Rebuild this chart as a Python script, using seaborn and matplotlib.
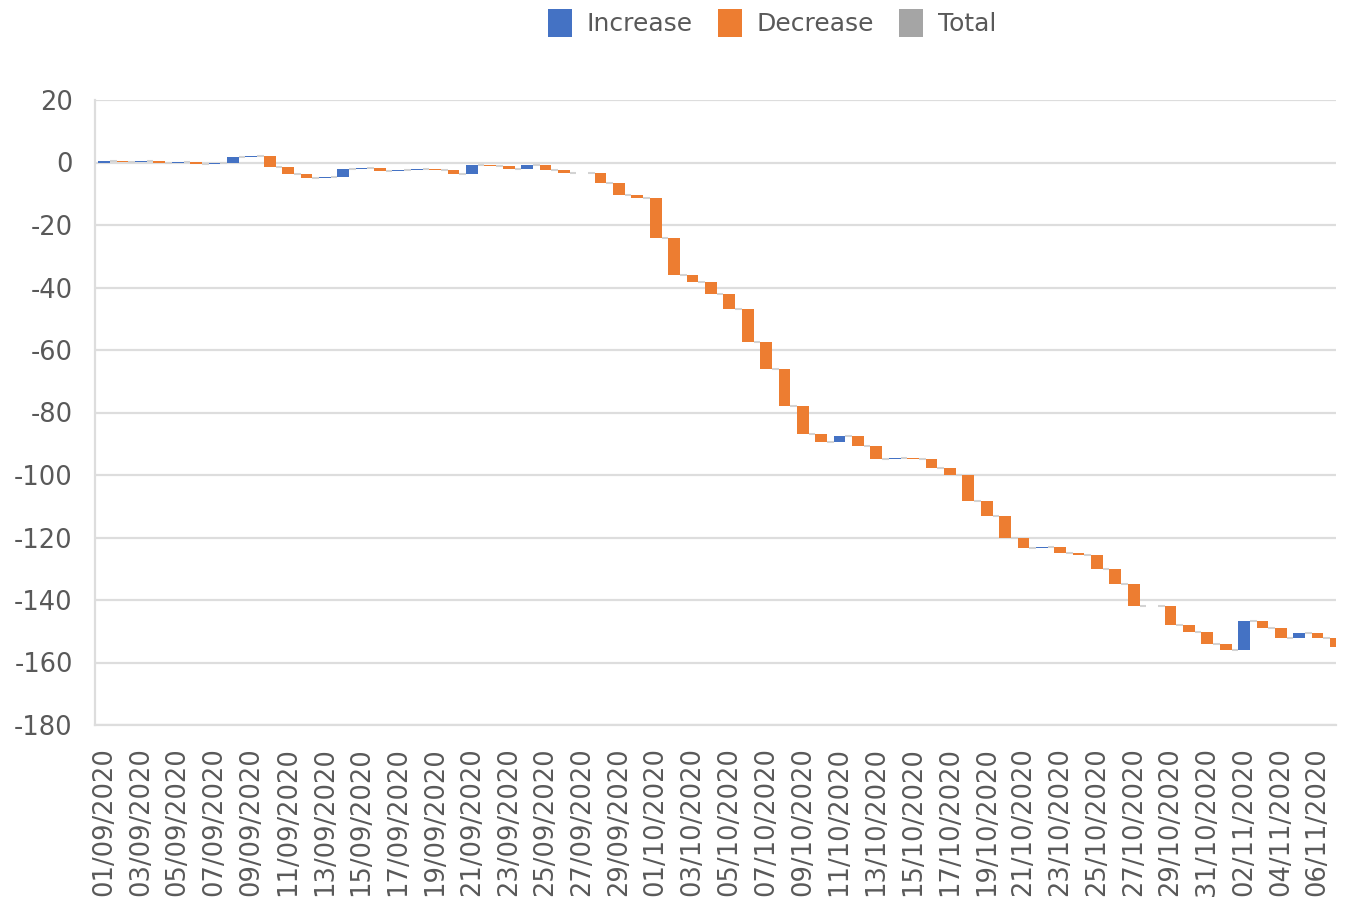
import numpy as np
import pandas as pd
import seaborn as sns
import matplotlib.pyplot as plt
from matplotlib.patches import Patch

# daily categories, 01/09/2020 .. 07/11/2020
dates = list(pd.date_range('2020-09-01', '2020-11-07').strftime('%d/%m/%Y'))

# daily change
changes = [0.5, -0.3, 0.3, -0.6, 0.2, -0.7, 0.3, 2.2, 0.3, -3.7,
           -2.2, -1.2, 0.3, 2.6, 0.3, -0.9, 0.2, 0.2, -0.2, -1.2,
           2.8, -0.3, -0.9, 1.2, -1.6, -1.1, 0.2, -3.3, -3.8, -1.1,
           -12.5, -12.0, -2.1, -3.9, -4.9, -10.4, -8.7, -12.0, -9.0, -2.5,
           1.9, -3.1, -4.3, 0.3, -0.3, -2.8, -2.2, -8.3, -4.9, -7.1,
           -2.9, 0.3, -2.1, -0.6, -4.5, -4.9, -7.0, 0.2, -6.2, -2.2,
           -3.9, -2.0, 9.3, -2.1, -3.3, 1.7, -1.6, -2.9]

legend_labels = ['Increase', 'Decrease', 'Total']
colors = ['#4472C4', '#ED7D31', '#A5A5A5']
yticks = list(range(-180, 21, 20))

# build waterfall table
df = pd.DataFrame({'date': dates, 'change': changes})
df['end'] = df['change'].cumsum()
df['start'] = df['end'] - df['change']
df['kind'] = np.where(df['change'] >= 0, 'Increase', 'Decrease')

sns.set_theme(style='whitegrid')
plt.rcParams['font.family'] = ['DejaVu Sans']
plt.rcParams['axes.unicode_minus'] = False

fig = plt.figure(figsize=(13.45, 9.06), dpi=100)
ax = fig.add_axes([95 / 1345, 1 - 725 / 906, 1241 / 1345, 625 / 906])

bar_w = 0.64
for kind, col in zip(legend_labels[:2], colors[:2]):
    sub = df[df['kind'] == kind]
    sns.barplot(data=sub, x='date', y='change', order=dates,
                bottom=sub['start'].to_numpy(), color=col, saturation=1,
                width=bar_w, errorbar=None, linewidth=0, ax=ax)

# connector lines between bars
ax.hlines(df['end'][:-1], np.arange(len(dates) - 1) + bar_w / 2,
          np.arange(1, len(dates)) - bar_w / 2,
          color='#D3D3D3', lw=1.5, zorder=1)

ax.set_xlim(-0.5, len(dates) - 1)
ax.set_ylim(-180, 20)
ax.set_yticks(yticks)
ax.set_xticks(range(0, len(dates), 2))
ax.set_xticklabels(dates[::2], rotation=90)
ax.set_xlabel('')
ax.set_ylabel('')

ax.set_axisbelow(True)
ax.grid(axis='y', color='#DDDDDD', lw=1.6)
ax.grid(axis='x', visible=False)
for side in ['top', 'right']:
    ax.spines[side].set_visible(False)
for side in ['left', 'bottom']:
    ax.spines[side].set_color('#DDDDDD')
    ax.spines[side].set_linewidth(1.6)
ax.tick_params(axis='both', length=0, labelsize=18.5, labelcolor='#595959', pad=16)

handles = [Patch(facecolor=c, edgecolor='none', label=l) for l, c in zip(legend_labels, colors)]
fig.legend(handles=handles, loc='center', bbox_to_anchor=(772 / 1345, 1 - 23 / 906),
           ncol=3, frameon=False, fontsize=18, handlelength=0.95, handleheight=1.3,
           handletextpad=0.6, columnspacing=1.0, labelcolor='#595959')

fig.savefig('out.png', dpi=100)
